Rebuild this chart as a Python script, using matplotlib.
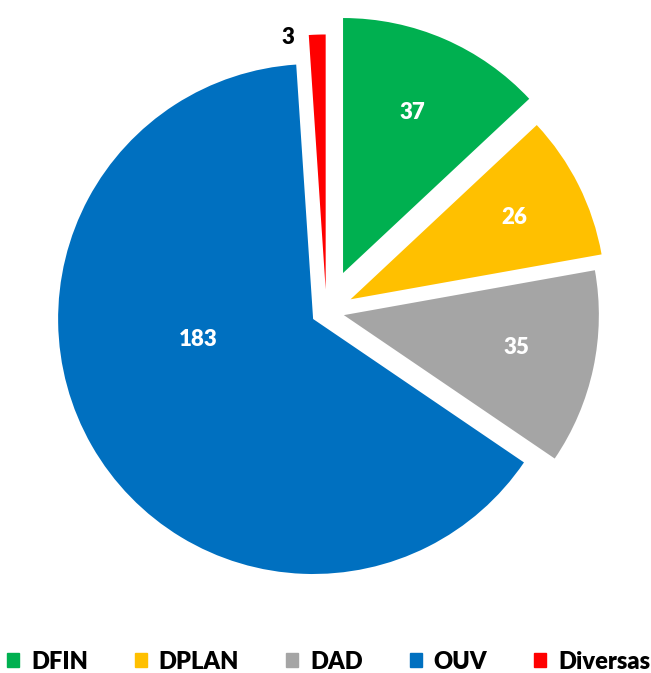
import numpy as np
import matplotlib.pyplot as plt
from matplotlib.patches import Patch

plt.rcParams['font.family'] = ['Lato', 'DejaVu Sans']

labels = ['DFIN', 'DPLAN', 'DAD', 'OUV', 'Diversas']
values = [37, 26, 35, 183, 3]
colors = ['#00B050', '#FFC000', '#A5A5A5', '#0070C0', '#FF0000']
explode = [0.164, 0.106, 0.070, 0.060, 0.086]   # fraction of radius

# label placement: (fraction of radius, angle shift in deg), text colour
lab_pos = [(0.685, 0), (0.72, 0), (0.69, 1.5), (0.46, -19.5), (1.0, 6.6)]
lab_col = ['white', 'white', 'white', 'white', 'black']

fig = plt.figure(figsize=(6.51, 6.73), dpi=100)
ax = fig.add_axes([0, 0, 1, 1])
R = 255
wedges, _ = ax.pie(values, colors=colors, explode=[e * R for e in explode],
                   startangle=90, counterclock=False, radius=R,
                   center=(326.4, 361.6), wedgeprops=dict(linewidth=0))
ax.set_xlim(0, 651)
ax.set_ylim(0, 673)
ax.set_aspect('equal')
ax.axis('off')

for w, v, (f, sh), c in zip(wedges, values, lab_pos, lab_col):
    th = np.deg2rad((w.theta1 + w.theta2) / 2 + sh)
    cx, cy = w.center
    ax.text(cx + f * R * np.cos(th), cy + f * R * np.sin(th), str(v),
            ha='center', va='center', color=c, fontsize=16, fontweight='heavy')

handles = [Patch(color=c, label=l) for c, l in zip(colors, labels)]
fig.legend(handles=handles, loc='center', bbox_to_anchor=(0.505, 0.017), ncol=5,
           frameon=False, handlelength=0.5, handleheight=0.5, handletextpad=0.5,
           columnspacing=2.0, prop=dict(size=17, weight='heavy'))

fig.savefig('out.png', dpi=100)
